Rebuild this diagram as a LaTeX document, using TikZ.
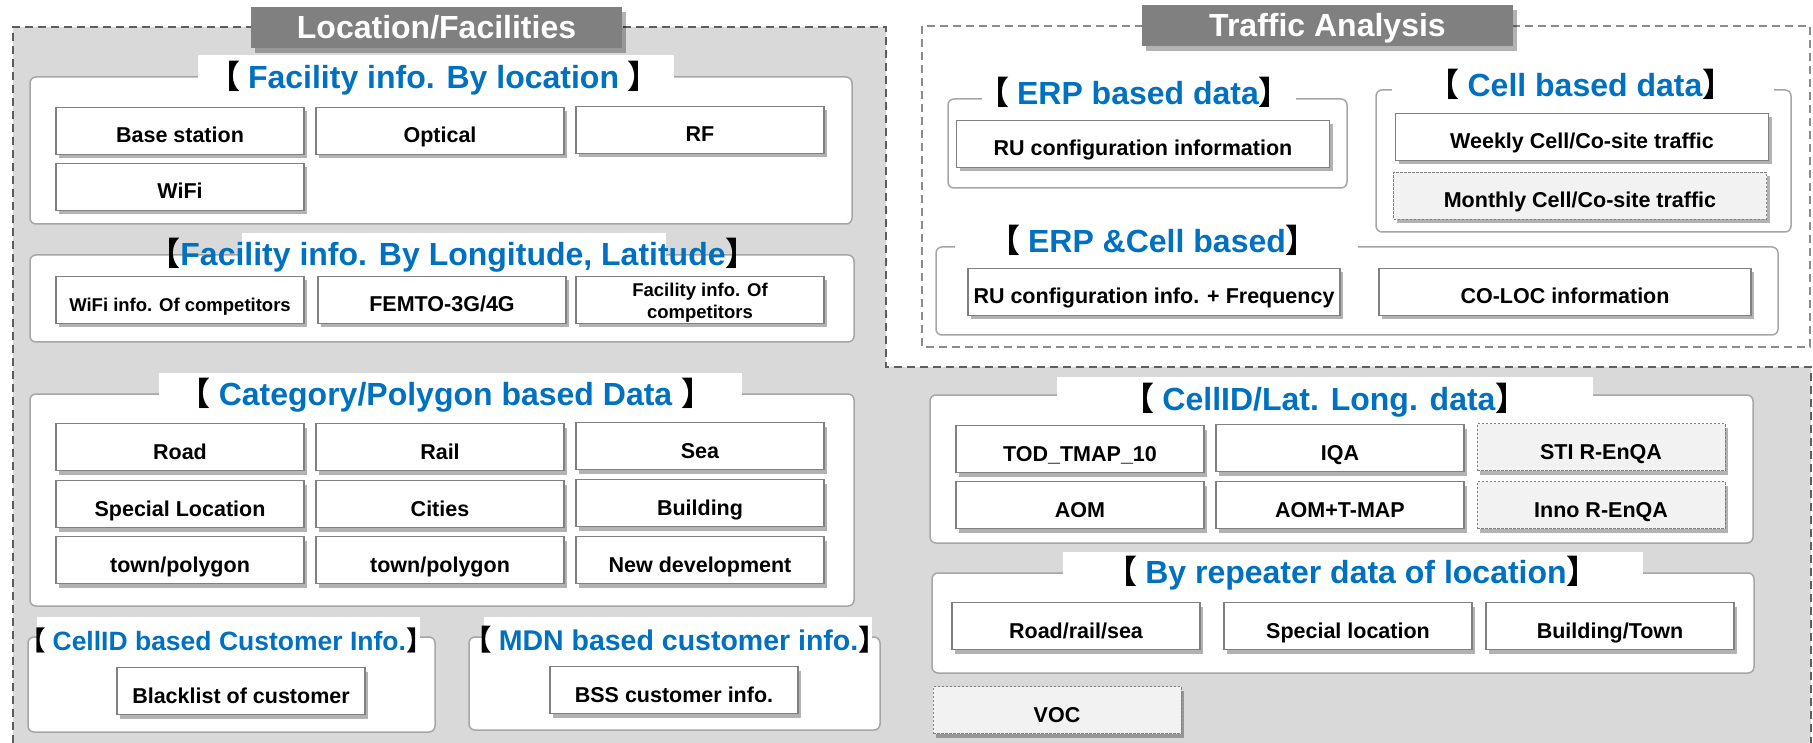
\documentclass[tikz,border=0pt]{standalone}
\usepackage{fontspec}
\setmainfont{Liberation Sans}
\newfontfamily\cjkf{Noto Sans CJK SC}
\usetikzlibrary{shadows,fit}
\definecolor{bggray}{HTML}{D9D9D9}
\definecolor{dashdark}{HTML}{5E5E5E}
\definecolor{dashlight}{HTML}{8C8C8C}
\definecolor{hdrgray}{HTML}{808080}
\definecolor{tblue}{HTML}{0070C0}
\definecolor{itemborder}{HTML}{808080}
\definecolor{sectborder}{HTML}{A6A6A6}
\definecolor{lightfill}{HTML}{F2F2F2}
\newcommand\obr{{\cjkf\bfseries\color{black}【}}
\newcommand\cbr{{\cjkf\bfseries\color{black}】}}
\newcommand\bgap{\hspace{0.25em}}
\tikzset{
  item/.style={draw=itemborder, line width=1.3pt, fill=white, minimum width=248, minimum height=47,
    inner sep=0pt, align=center, font=\bfseries\fontsize{21.5}{24}\selectfont,
    text height=24pt, text depth=0pt,
    drop shadow={shadow xshift=3pt, shadow yshift=-4pt, opacity=0.3, fill=black}},
  smallitem/.style={font=\bfseries\fontsize{18.5}{22}\selectfont},
  ditem/.style={item, fill=lightfill, draw=gray, line width=1pt, dash pattern=on 2.5pt off 1.5pt},
  sect/.style={draw=sectborder, line width=1.5pt, fill=white, rounded corners=6pt, inner sep=0pt},
  ttl/.style={font=\bfseries\fontsize{32}{36}\selectfont, text=tblue, inner sep=0pt, anchor=base},
  hdr/.style={fill=hdrgray, text=white, font=\bfseries\fontsize{32}{36}\selectfont,
    minimum width=371, minimum height=41, inner sep=0pt, text height=23pt, text depth=0pt,
    drop shadow={shadow xshift=4pt, shadow yshift=-5pt, opacity=0.3, fill=black}},
}
\begin{document}
\begin{tikzpicture}[x=1pt,y=-1pt]
\useasboundingbox (0,0) rectangle (1813,743);
\fill[white] (0,0) rectangle (1813,743);
% gray region
\fill[bggray] (13,27) -- (886,27) -- (886,367) -- (1811,367) -- (1811,743) -- (13,743) -- cycle;
\draw[dashdark, line width=2.5pt, dash pattern=on 8pt off 5pt]
  (13,743) -- (13,27) -- (886,27) -- (886,367) -- (1811,367) -- (1811,743);
% traffic analysis box
\draw[dashlight, line width=1.6pt, dash pattern=on 8pt off 5pt] (922,26) rectangle (1810,347);
% headers
\node[hdr] (h1) at (436.5,27.5) {Location/Facilities};
\node[hdr] (h2) at (1327.5,25.5) {Traffic Analysis};
% section boxes
\node[sect, fit={(30,77) (852,224)}] (s1) {};
\node[sect, fit={(30,255) (854,342)}] (s2) {};
\node[sect, fit={(30,394) (854,606)}] (s3) {};
\node[sect, fit={(28,637) (435,732)}] (s4) {};
\node[sect, fit={(469,637) (880,730)}] (s5) {};
\node[sect, fit={(948,99) (1347,188)}] (t1) {};
\node[sect, fit={(1376,90) (1791,232)}] (t2) {};
\node[sect, fit={(936,247) (1778,335)}] (t3) {};
\node[sect, fit={(930,395) (1753,543)}] (b1) {};
\node[sect, fit={(932,573) (1754,673)}] (b2) {};
% title patches
\fill[white] (198,55) rectangle (674,80);
\fill[white] (242,233) rectangle (666,257);
\fill[white] (159,373) rectangle (742,397);
\fill[white] (37,617) rectangle (420,640);
\fill[white] (484,617) rectangle (872,640);
\fill[white] (982,92) rectangle (1296,106);
\fill[white] (1392,83) rectangle (1774,97);
\fill[white] (955,240) rectangle (1358,254);
\fill[white] (1057,377) rectangle (1593,398);
\fill[white] (1063,552) rectangle (1643,576);
% titles
\node[ttl] (ts1) at (434,89) {\obr\bgap Facility info. By location \cbr};
\node[ttl] (ts2) at (453,266) {\obr Facility info. By Longitude, Latitude\cbr};
\node[ttl] (ts3) at (446,405) {\obr\bgap Category/Polygon based Data \cbr};
\node[ttl, font=\bfseries\fontsize{26.5}{30}\selectfont] (ts4) at (226,650) {\obr\bgap CellID based Customer Info.\cbr};
\node[ttl, font=\bfseries\fontsize{28.5}{32}\selectfont] (ts5) at (675,650) {\obr\bgap MDN based customer info.\cbr};
\node[ttl] (tt1) at (1134,105) {\obr\bgap ERP based data\cbr};
\node[ttl] (tt2) at (1581,97) {\obr\bgap Cell based data\cbr};
\node[ttl] (tt3) at (1153,253) {\obr\bgap ERP \&Cell based\cbr};
\node[ttl] (tb1) at (1325,410) {\obr\bgap CellID/Lat. Long. data\cbr};
\node[ttl] (tb2) at (1352,583) {\obr\bgap By repeater data of location\cbr};
% items: facility by location
\node[item] (bs) at (180,131) {Base station};
\node[item] (opt) at (440,131) {Optical};
\node[item] (rf) at (700,130) {RF};
\node[item] (wifi) at (180,187) {WiFi};
% by longitude/latitude
\node[item, smallitem] (wific) at (180,300) {WiFi info. Of competitors};
\node[item] (femto) at (442,300) {FEMTO-3G/4G};
\node[item] (facc) at (700,300) {};
\node[align=center, inner sep=0pt, font=\bfseries\fontsize{18.5}{22}\selectfont] (facct) at (700,303) {Facility info. Of\\competitors};
% category/polygon
\node[item] (road) at (180,447) {Road};
\node[item] (rail) at (440,447) {Rail};
\node[item] (sea) at (700,446) {Sea};
\node[item] (spl) at (180,504) {Special Location};
\node[item] (cit) at (440,504) {Cities};
\node[item] (bld) at (700,503) {Building};
\node[item] (tp1) at (180,560) {town/polygon};
\node[item] (tp2) at (440,560) {town/polygon};
\node[item] (newd) at (700,560) {New development};
% customer
\node[item] (black) at (241,691) {Blacklist of customer};
\node[item] (bss) at (674,690) {BSS customer info.};
% traffic
\node[item, minimum width=373] (ru) at (1143,144) {RU configuration information};
\node[item, minimum width=373] (week) at (1582,137) {Weekly Cell/Co-site traffic};
\node[ditem, minimum width=373] (month) at (1580,196) {Monthly Cell/Co-site traffic};
\node[item, minimum width=372] (rufreq) at (1154,292) {RU configuration info. + Frequency};
\node[item, minimum width=372] (coloc) at (1565,292) {CO-LOC information};
% cellid/lat long
\node[item] (tod) at (1080,449) {TOD\_TMAP\_10};
\node[item] (iqa) at (1340,448) {IQA};
\node[ditem] (sti) at (1601,447) {STI R-EnQA};
\node[item] (aom) at (1080,505) {AOM};
\node[item] (aomt) at (1340,505) {AOM+T-MAP};
\node[ditem] (inno) at (1601,505) {Inno R-EnQA};
% repeater
\node[item] (rrs) at (1076,626) {Road/rail/sea};
\node[item] (spl2) at (1348,626) {Special location};
\node[item] (bt) at (1610,626) {Building/Town};
\node[ditem] (voc) at (1057,710) {VOC};
\end{tikzpicture}
\end{document}
